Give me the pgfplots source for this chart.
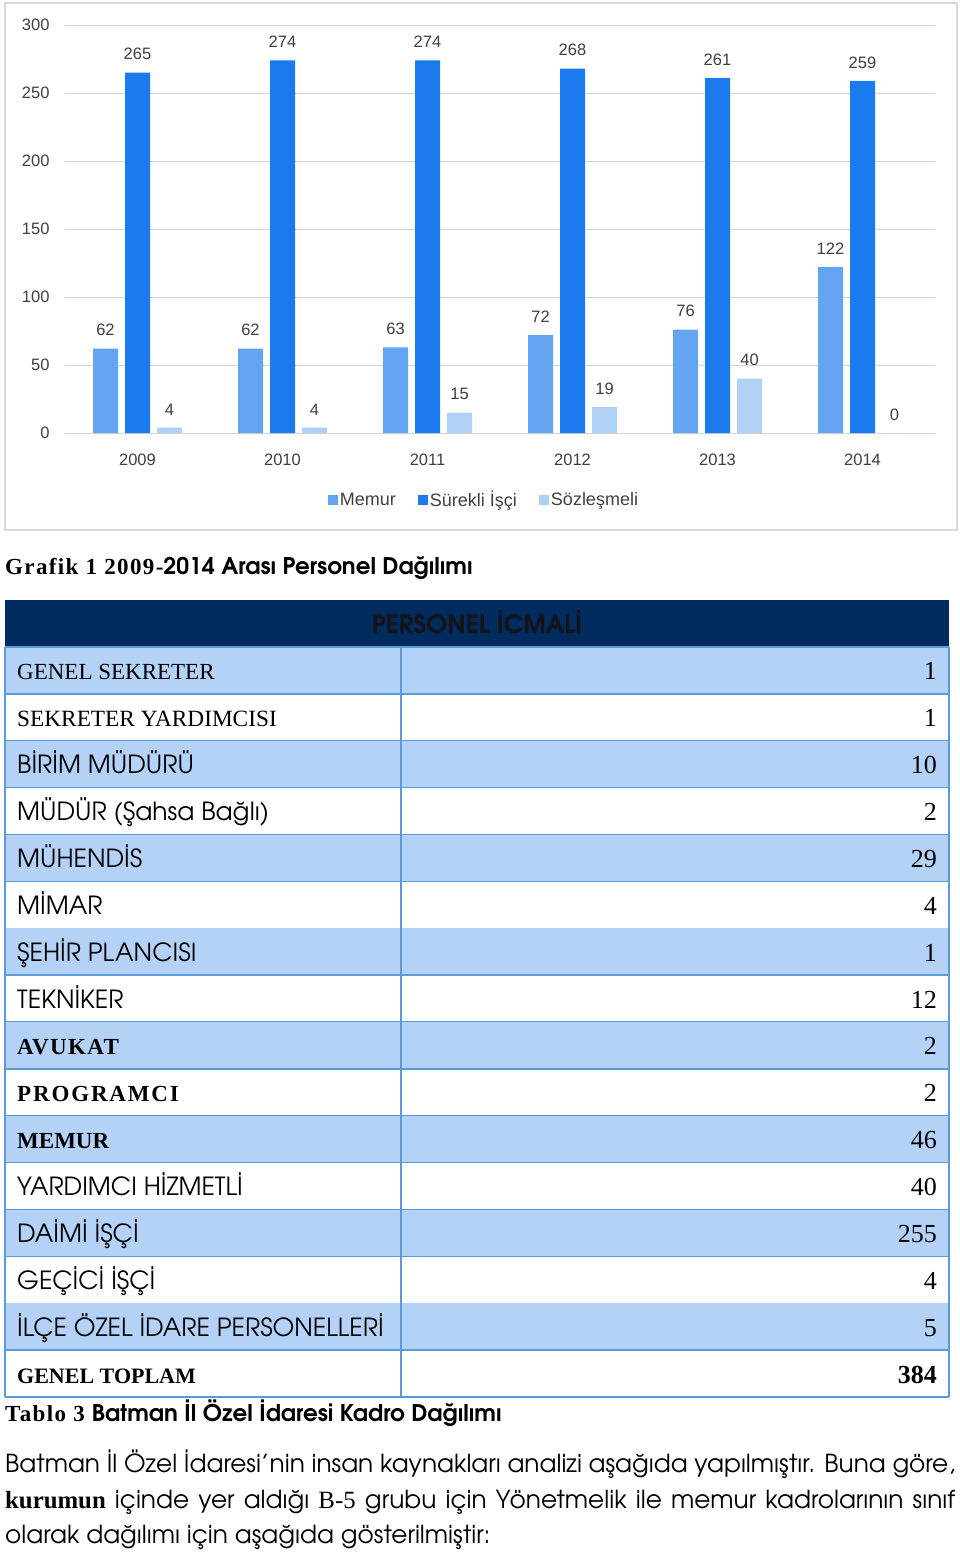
\documentclass[border=0pt]{standalone}
\usepackage{pgfplots}
\pgfplotsset{compat=1.18}
\usepackage{fontspec}
\setmainfont{TeX Gyre Adventor}
\newfontfamily\arial{Liberation Sans}
\newfontfamily\tnr{Liberation Serif}
\definecolor{memur}{RGB}{100,164,240}
\definecolor{surekli}{RGB}{26,122,238}
\definecolor{sozles}{RGB}{176,208,246}
\definecolor{navy}{RGB}{0,43,94}
\definecolor{rowblue}{RGB}{180,210,247}
\definecolor{tblline}{RGB}{91,155,213}
\definecolor{txtgray}{RGB}{64,64,64}
\begin{document}
\begin{tikzpicture}[x=1pt,y=1pt]
\useasboundingbox (0,0) rectangle (960,-1552);
\fill[white] (0,0) rectangle (960,-1552);
\draw[black!15, line width=1.2pt] (5,-3) rectangle (957,-530);
\begin{axis}[at={(65pt,-433pt)}, anchor=south west, scale only axis,
  width=870pt, height=408pt,
  xmin=-0.5, xmax=5.5, ymin=0, ymax=300,
  ybar=7pt, bar width=25pt,
  xtick={0,1,2,3,4,5}, xticklabels={2009,2010,2011,2012,2013,2014},
  ytick={0,50,100,150,200,250,300},
  ymajorgrids, grid style={black!17, line width=0.9pt},
  axis line style={draw=none}, major tick length=0pt,
  /pgf/number format/assume math mode=true,
  tick label style={font=\arial\fontsize{16.5}{16.5}\selectfont, text=txtgray},
  yticklabel style={xshift=-12pt},
  xticklabel style={yshift=-17pt},
  nodes near coords,
  every node near coord/.append style={font=\arial\fontsize{16.5}{16.5}\selectfont, text=txtgray, yshift=9pt},
  legend columns=3,
  legend style={at={(0.4816,-0.164)}, anchor=center, draw=none,
    font=\arial\fontsize{18}{18}\selectfont, text=txtgray,
    /tikz/every even column/.append style={column sep=20pt}},
  legend image code/.code={\fill[#1] (0pt,-5pt) rectangle (10pt,5pt);},
]
\addplot[fill=memur, draw=none] coordinates {(0,62) (1,62) (2,63) (3,72) (4,76) (5,122)};
\addplot[fill=surekli, draw=none] coordinates {(0,265) (1,274) (2,274) (3,268) (4,261) (5,259)};
\addplot[fill=sozles, draw=none] coordinates {(0,4) (1,4) (2,15) (3,19) (4,40) (5,0)};
\legend{Memur, Sürekli İşçi, Sözleşmeli}
\end{axis}
% caption
\node[anchor=base west, inner sep=0pt] at (5,-574) {\fontsize{23}{23}\selectfont\bfseries{\tnr\addfontfeature{LetterSpace=6}Grafik 1 2009-}2014 Arası Personel Dağılımı};
% table
\fill[navy] (5,-600) rectangle (949,-647);
\node[anchor=base, inner sep=0pt, text=black!92, font=\fontsize{25}{25}\selectfont\bfseries] at (477,-633) {PERSONEL İCMALİ};
\foreach \i/\lab/\num in {
 0/{\tnr\fontsize{23}{23}\selectfont GENEL SEKRETER}/1,
 1/{\tnr\fontsize{23.3}{23}\selectfont SEKRETER YARDIMCISI}/1,
 2/{BİRİM MÜDÜRÜ}/10,
 3/{MÜDÜR (Şahsa Bağlı)}/2,
 4/{MÜHENDİS}/29,
 5/{MİMAR}/4,
 6/{ŞEHİR PLANCISI}/1,
 7/{TEKNİKER}/12,
 8/{\tnr\bfseries\fontsize{23}{23}\selectfont\addfontfeature{LetterSpace=6}AVUKAT}/2,
 9/{\tnr\bfseries\fontsize{23}{23}\selectfont\addfontfeature{LetterSpace=8}PROGRAMCI}/2,
 10/{\tnr\bfseries\fontsize{23}{23}\selectfont MEMUR}/46,
 11/{YARDIMCI HİZMETLİ}/40,
 12/{DAİMİ İŞÇİ}/255,
 13/{GEÇİCİ İŞÇİ}/4,
 14/{İLÇE ÖZEL İDARE PERSONELLERİ}/5,
 15/{\tnr\bfseries\fontsize{22}{22}\selectfont GENEL TOPLAM}/{\bfseries 384}}{
  \pgfmathsetmacro{\yt}{-647-46.875*\i}
  \pgfmathsetmacro{\yb}{\yt-46.875}
  \pgfmathsetmacro{\ym}{\yt-23.4-9.5}
  \pgfmathtruncatemacro{\odd}{mod(\i,2)}
  \ifnum\odd=0 \fill[rowblue] (5,\yt) rectangle (949,\yb); \fi
  \draw[tblline, line width=1.3pt] (5,\yb) -- (949,\yb);
  \node[anchor=base west, inner sep=0pt, font=\fontsize{25}{25}\selectfont] at (17,\ym) {\lab};
  \node[anchor=base east, inner sep=0pt, font=\tnr\fontsize{26}{26}\selectfont] at (937,\ym) {\num};
}
\draw[tblline, line width=1.3pt] (5,-647) -- (5,-1397);
\draw[tblline, line width=1.3pt] (949,-647) -- (949,-1397);
\draw[tblline, line width=1.3pt] (401,-647) -- (401,-1397);
\draw[tblline, line width=1.3pt] (5,-647) -- (949,-647);
\node[anchor=base west, inner sep=0pt] at (5,-1421) {\fontsize{23}{23}\selectfont\bfseries{\tnr\addfontfeature{LetterSpace=6}Tablo 3 }Batman İl Özel İdaresi Kadro Dağılımı};
% paragraph
\node[anchor=base west, inner sep=0pt, font=\fontsize{24.8}{24.8}\selectfont] at (5,-1472) {\hbox to 950pt{Batman İl Özel İdaresi’nin insan kaynakları analizi aşağıda yapılmıştır. Buna göre,}};
\node[anchor=base west, inner sep=0pt, font=\fontsize{24.8}{24.8}\selectfont] at (5,-1508) {\hbox to 950pt{{\tnr\bfseries kurumun} içinde yer aldığı {\tnr B-5} grubu için Yönetmelik ile memur kadrolarının sınıf}};
\node[anchor=base west, inner sep=0pt, font=\fontsize{24.8}{24.8}\selectfont] at (5,-1543) {olarak dağılımı için aşağıda gösterilmiştir:};
\end{tikzpicture}
\end{document}
